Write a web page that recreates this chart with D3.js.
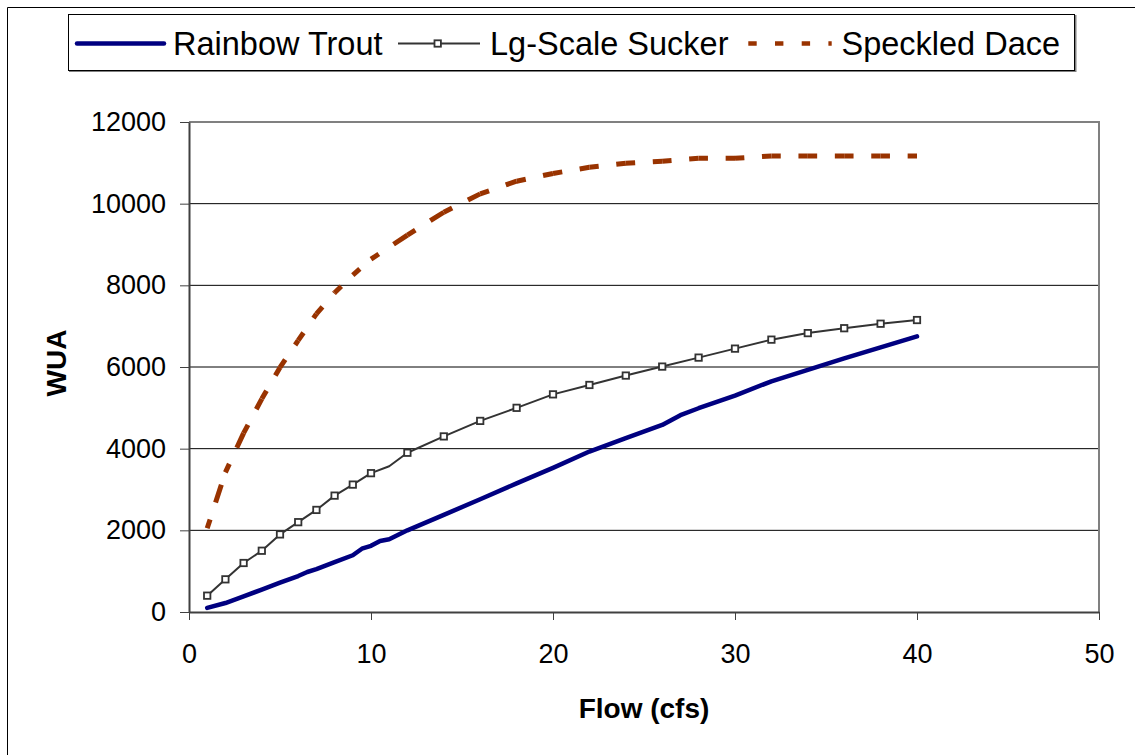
<!DOCTYPE html>
<html>
<head>
<meta charset="utf-8">
<script src="https://d3js.org/d3.v7.min.js"></script>
<style>
  body { margin: 0; background: #ffffff; }
  svg { display: block; font-family: Arial, "Liberation Sans", sans-serif; }
</style>
</head>
<body>
<div id="chart"></div>
<script>
// WUA vs flow for the three species
var troutFlow = [1, 2, 3, 4, 5, 6, 6.5, 7, 8, 9, 9.5, 10, 10.5, 11, 12, 14, 16, 18, 20, 22, 24, 26, 27, 28, 30, 32, 34, 36, 38, 40];
var troutWua  = [100, 220, 380, 550, 720, 880, 980, 1050, 1220, 1390, 1550, 1620, 1740, 1780, 2000, 2380, 2760, 3150, 3530, 3930, 4260, 4580, 4820, 4990, 5300, 5650, 5930, 6210, 6480, 6750];

var suckerFlow = [1, 2, 3, 4, 5, 6, 7, 8, 9, 10, 11, 12, 14, 16, 18, 20, 22, 24, 26, 28, 30, 32, 34, 36, 38, 40];
var suckerWua  = [400, 800, 1200, 1500, 1900, 2200, 2500, 2850, 3120, 3400, 3570, 3900, 4300, 4680, 5000, 5330, 5560, 5790, 6010, 6230, 6450, 6670, 6830, 6950, 7060, 7150];
var suckerNoMarker = [11];   // interpolated point, no symbol drawn

var daceFlow = [1, 2, 3, 4, 5, 6, 7, 8, 9, 10, 12, 14, 16, 18, 20, 22, 24, 26, 28, 30, 32, 34, 36, 38, 40];
var daceWua  = [2050, 3420, 4380, 5220, 5990, 6650, 7300, 7820, 8250, 8640, 9230, 9790, 10240, 10550, 10740, 10890, 10990, 11040, 11110, 11110, 11170, 11170, 11170, 11170, 11170];

var xTicks = [0, 10, 20, 30, 40, 50];
var yTicks = [0, 2000, 4000, 6000, 8000, 10000, 12000];
var seriesNames = ["Rainbow Trout", "Lg-Scale Sucker", "Speckled Dace"];

var W = 1135, H = 755;
var svg = d3.select("#chart").append("svg").attr("width", W).attr("height", H);

// outer chart frame (only top/left edge fall inside the page)
svg.append("path")
  .attr("d", "M7.5," + H + "V7.5H" + W)
  .attr("fill", "none").attr("stroke", "#000").attr("stroke-width", 1);

var x = d3.scaleLinear().domain([0, 50]).range([189, 1099]);
var y = d3.scaleLinear().domain([0, 12000]).range([612, 122]);

/* gridlines */
svg.append("g").selectAll("line")
  .data(yTicks.filter(function(d) { return d > 0 && d < 12000; }))
  .enter().append("line")
  .attr("x1", x(0)).attr("x2", x(50))
  .attr("y1", function(d) { return y(d); })
  .attr("y2", function(d) { return y(d); })
  .attr("stroke", "#000").attr("stroke-width", 1);

/* plot area border, top and right */
svg.append("path")
  .attr("d", "M" + x(0) + "," + y(12000) + "H" + x(50) + "V" + y(0))
  .attr("fill", "none").attr("stroke", "#808080").attr("stroke-width", 2);

/* axes */
var xAxis = svg.append("g")
  .attr("transform", "translate(0," + y(0) + ")")
  .call(d3.axisBottom(x).tickValues(xTicks).tickSize(8).tickSizeOuter(0).tickPadding(23.5).tickFormat(d3.format("d")));
var yAxis = svg.append("g")
  .attr("transform", "translate(" + x(0) + ",0)")
  .call(d3.axisLeft(y).tickValues(yTicks).tickSize(9).tickSizeOuter(0).tickPadding(14).tickFormat(d3.format("d")));

[xAxis, yAxis].forEach(function(g) {
  g.select(".domain").attr("stroke", "#404040").attr("stroke-width", 2);
  g.selectAll(".tick line").attr("stroke", "#404040").attr("stroke-width", 1);
  g.selectAll(".tick text").attr("fill", "#000")
    .style("font-size", "27px").style("font-family", "Arial, 'Liberation Sans', sans-serif");
});

/* axis titles */
svg.append("text")
  .attr("x", (x(0) + x(50)) / 2).attr("y", 718)
  .attr("text-anchor", "middle")
  .style("font-size", "28px").style("font-weight", "bold")
  .text("Flow (cfs)");

svg.append("text")
  .attr("transform", "translate(66," + 363 + ") rotate(-90)")
  .attr("text-anchor", "middle")
  .style("font-size", "28px").style("font-weight", "bold")
  .text("WUA");

/* series */
var line = d3.line()
  .x(function(d) { return x(d[0]); })
  .y(function(d) { return y(d[1]); });

var trout = troutFlow.map(function(f, i) { return [f, troutWua[i]]; });
var sucker = suckerFlow.map(function(f, i) { return [f, suckerWua[i]]; });
var dace = daceFlow.map(function(f, i) { return [f, daceWua[i]]; });

// dace: each segment gets its own dash run so the dashes sit centred on the points
var daceG = svg.append("g");
for (var i = 0; i < dace.length - 1; i++) {
  daceG.append("path")
    .attr("d", line([dace[i], dace[i + 1]]))
    .attr("fill", "none")
    .attr("stroke", "#993300")
    .attr("stroke-width", 5)
    .attr("stroke-dasharray", "18.7 17.7")
    .attr("stroke-dashoffset", 9.35);
}

svg.append("path")
  .attr("d", line(sucker))
  .attr("fill", "none")
  .attr("stroke", "#333333")
  .attr("stroke-width", 2)
  .attr("stroke-linejoin", "round");

svg.append("g").selectAll("rect")
  .data(sucker.filter(function(d) { return suckerNoMarker.indexOf(d[0]) < 0; }))
  .enter().append("rect")
  .attr("x", function(d) { return x(d[0]) - 3.2; })
  .attr("y", function(d) { return y(d[1]) - 3.2; })
  .attr("width", 6.4).attr("height", 6.4)
  .attr("fill", "#fff")
  .attr("stroke", "#333333").attr("stroke-width", 1.8);

svg.append("path")
  .attr("d", line(trout))
  .attr("fill", "none")
  .attr("stroke", "#000080")
  .attr("stroke-width", 4.5)
  .attr("stroke-linejoin", "round")
  .attr("stroke-linecap", "round");

/* legend */
var lg = svg.append("g");
lg.append("path")
  .attr("d", "M69,71H1075.5V15")
  .attr("fill", "none").attr("stroke", "#808080").attr("stroke-width", 2);
lg.append("rect")
  .attr("x", 68.5).attr("y", 14.5).attr("width", 1006).attr("height", 56)
  .attr("fill", "#fff").attr("stroke", "#000").attr("stroke-width", 1);

var legY = 43.5;
lg.append("line")
  .attr("x1", 77).attr("x2", 164).attr("y1", legY).attr("y2", legY)
  .attr("stroke", "#000080").attr("stroke-width", 4.5).attr("stroke-linecap", "round");
lg.append("line")
  .attr("x1", 398).attr("x2", 480).attr("y1", legY).attr("y2", legY)
  .attr("stroke", "#333333").attr("stroke-width", 2);
lg.append("rect")
  .attr("x", 437.7 - 3.2).attr("y", legY - 3.2).attr("width", 6.4).attr("height", 6.4)
  .attr("fill", "#fff").attr("stroke", "#333333").attr("stroke-width", 1.8);
lg.append("line")
  .attr("x1", 748.3).attr("x2", 831.7).attr("y1", legY).attr("y2", legY)
  .attr("stroke", "#993300").attr("stroke-width", 4.7)
  .attr("stroke-dasharray", "8.4 18.3");

var legTextX = [173, 490, 841.5];
lg.selectAll("text.leg")
  .data(seriesNames)
  .enter().append("text")
  .attr("class", "leg")
  .attr("x", function(d, i) { return legTextX[i]; })
  .attr("y", 54.5)
  .style("font-size", "32.5px")
  .text(function(d) { return d; });
</script>
</body>
</html>
